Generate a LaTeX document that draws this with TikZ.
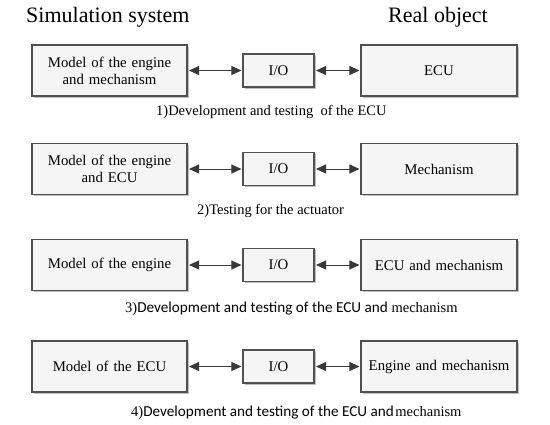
\documentclass[tikz,border=0pt]{standalone}
\usepackage{fontspec}
\setmainfont{Liberation Serif}
\newfontfamily\capsans{Carlito}
\usetikzlibrary{arrows.meta,shadows}
\definecolor{boxline}{HTML}{505050}
\definecolor{boxfill}{HTML}{F5F5F5}
\definecolor{arrline}{HTML}{383838}
\tikzset{
  bigbox/.style={draw=boxline, line width=1.1pt, fill=boxfill, minimum height=51pt,
    inner sep=2pt, align=center, font=\fontsize{14.8}{16.8}\selectfont,
    drop shadow={shadow xshift=1.6pt, shadow yshift=-1.6pt, opacity=0.25, fill=black}},
  leftbox/.style={bigbox, minimum width=155pt, text width=150pt},
  rightbox/.style={bigbox, minimum width=156pt, text width=150pt},
  iobox/.style={bigbox, minimum width=71pt, minimum height=33pt, text width=66pt},
  conn/.style={arrline, line width=0.9pt, {Triangle[length=10pt,width=9pt]}-{Triangle[length=10pt,width=9pt]}, shorten <=1.5pt, shorten >=1pt},
  caption/.style={anchor=base west, inner sep=0pt, font=\fontsize{14.5}{16}\selectfont},
  title/.style={anchor=base west, inner sep=0pt, font=\fontsize{22}{24}\selectfont}
}
\newcommand{\capsanstext}[1]{{\capsans\fontsize{15.2}{16}\selectfont #1}}
\begin{document}
\begin{tikzpicture}[x=1pt,y=-1pt]
\useasboundingbox (0,0) rectangle (550,425);
\fill[white] (0,0) rectangle (550,425);
\node[title] (t1) at (26,23) {Simulation system};
\node[title] (t2) at (388,23) {Real object};
% row 1
\node[leftbox] (l1) at (109.5,70.5) {Model of the engine\\and mechanism};
\node[iobox] (m1) at (278.5,70.5) {I/O};
\node[rightbox] (r1) at (439,70.5) {ECU};
\draw[conn] (l1) -- (m1);
\draw[conn] (m1) -- (r1);
\node[caption] (c1) at (156,116) {1)Development and testing~ of the ECU};
% row 2
\node[leftbox] (l2) at (109.5,169) {Model of the engine\\and ECU};
\node[iobox] (m2) at (278.5,169) {I/O};
\node[rightbox] (r2) at (439,169) {Mechanism};
\draw[conn] (l2) -- (m2);
\draw[conn] (m2) -- (r2);
\node[caption] (c2) at (197,215) {2)Testing for the actuator};
% row 3
\node[leftbox] (l3) at (109.5,265) {Model of the engine};
\node[iobox] (m3) at (278.5,265) {I/O};
\node[rightbox] (r3) at (439,265) {ECU and mechanism};
\draw[conn] (l3) -- (m3);
\draw[conn] (m3) -- (r3);
\node[caption] (c3) at (125,313) {3)\capsanstext{Development and testing of the ECU and} mechanism};
% row 4
\node[leftbox] (l4) at (109.5,366.5) {Model of the ECU};
\node[iobox] (m4) at (278.5,366.5) {I/O};
\node[rightbox] (r4) at (439,366.5) {Engine and mechanism};
\draw[conn] (l4) -- (m4);
\draw[conn] (m4) -- (r4);
\node[caption] (c4) at (131,417) {4)\capsanstext{Development and testing of the ECU and}\hspace{1.5pt}mechanism};
\end{tikzpicture}
\end{document}
